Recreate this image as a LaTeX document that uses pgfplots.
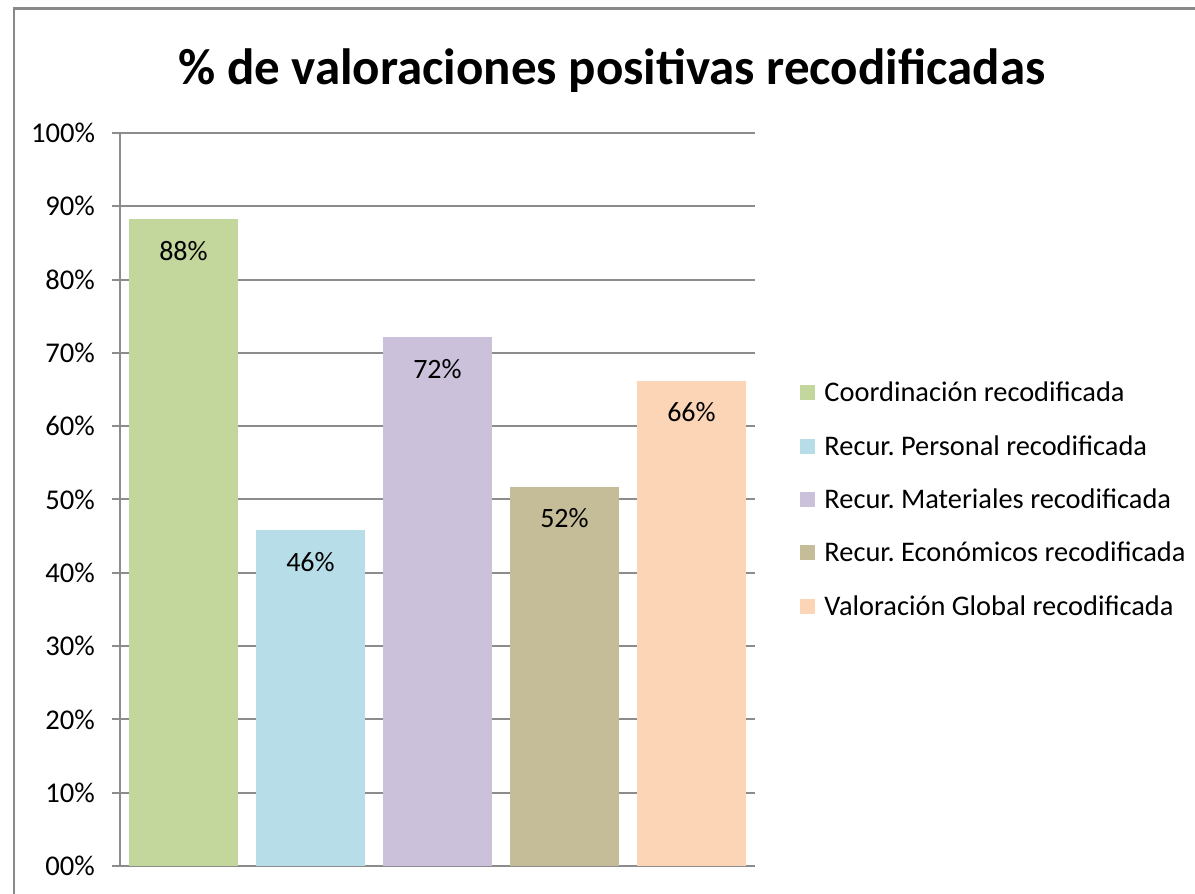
\documentclass[border=0pt]{standalone}
\usepackage{pgfplots}
\pgfplotsset{compat=1.18}
\usepackage{fontspec}
\setmainfont{Carlito}
\frenchspacing
\definecolor{gridgray}{HTML}{8C8C8C}
\definecolor{framegray}{HTML}{898989}
\definecolor{cA}{HTML}{C3D69B}
\definecolor{cB}{HTML}{B7DDE8}
\definecolor{cC}{HTML}{CCC1DA}
\definecolor{cD}{HTML}{C4BD97}
\definecolor{cE}{HTML}{FBD5B5}
\begin{document}
\begin{tikzpicture}
\useasboundingbox (0pt,0pt) rectangle (597.5pt,447pt);
\draw[framegray, line width=1.2pt] (7pt,0pt) -- (7pt,442.8pt) -- (597.5pt,442.8pt);
\node[anchor=base, font=\fontsize{25.5}{30}\selectfont\bfseries] at (306pt,404.5pt) {\% de valoraciones positivas recodificadas};
\begin{axis}[
  at={(60pt,14pt)}, anchor=south west, scale only axis,
  width=317.5pt, height=366.5pt,
  xmin=-0.5, xmax=4.5, ymin=0, ymax=100,
  ytick={0,10,...,100},
  yticklabels={00\%,10\%,20\%,30\%,40\%,50\%,60\%,70\%,80\%,90\%,100\%},
  xtick=\empty,
  ymajorgrids,
  grid style={gridgray, line width=1pt},
  axis x line*=bottom, axis y line*=left,
  axis line style={gridgray, line width=1pt, -},
  tick style={gridgray, line width=1pt},
  major tick length=4pt, tick align=outside,
  yticklabel style={font=\fontsize{14.3}{16}\selectfont, text=black, xshift=-5pt},
  ybar, bar width=54.5pt, bar shift=0pt,
  nodes near coords, point meta=explicit symbolic,
  every node near coord/.append style={anchor=north, yshift=-7.3pt, font=\fontsize{14}{16}\selectfont, text=black},
  legend style={at={(1.071,0.5)}, anchor=west, draw=none, fill=none, inner sep=0pt,
    row sep=11.7pt, font=\fontsize{14.2}{16}\selectfont,
    nodes={text height=10pt, text depth=1pt}},
  legend cell align=left,
  legend image code/.code={\fill[#1] (0pt,-3.75pt) rectangle (7.5pt,3.75pt); \path (10pt,0pt);},
]
\addplot[fill=cA, draw=none] coordinates {(0,88.2) [88\%]};
\addlegendentry{Coordinación recodificada}
\addplot[fill=cB, draw=none] coordinates {(1,45.8) [46\%]};
\addlegendentry{Recur. Personal recodificada}
\addplot[fill=cC, draw=none] coordinates {(2,72.1) [72\%]};
\addlegendentry{Recur. Materiales recodificada}
\addplot[fill=cD, draw=none] coordinates {(3,51.7) [52\%]};
\addlegendentry{Recur. Económicos recodificada}
\addplot[fill=cE, draw=none] coordinates {(4,66.2) [66\%]};
\addlegendentry{Valoración Global recodificada}
\end{axis}
\end{tikzpicture}
\end{document}
